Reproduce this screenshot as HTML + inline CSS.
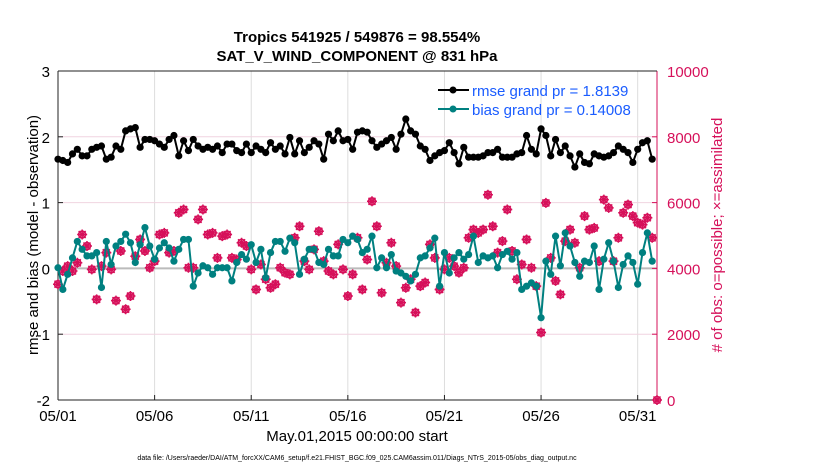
<!DOCTYPE html>
<html><head><meta charset="utf-8"><style>
body{margin:0;background:#fff;width:830px;height:470px;overflow:hidden}
svg{font-family:"Liberation Sans",sans-serif}
</style></head><body>
<svg id="chart" width="830" height="470">
<text x="357" y="42" font-size="15" font-weight="bold" text-anchor="middle">Tropics 541925 / 549876 = 98.554%</text>
<text x="357" y="61" font-size="15" font-weight="bold" text-anchor="middle">SAT_V_WIND_COMPONENT @ 831 hPa</text>
<g id="grid"></g>
<g id="axes"></g>
<g id="marks"></g>
<g>
<line x1="438" y1="90" x2="469" y2="90" stroke="#000" stroke-width="2"/><circle cx="453" cy="90" r="3.5" fill="#000"/>
<text x="472" y="96" font-size="15" fill="#1a5cff">rmse grand pr = 1.8139</text>
<line x1="438" y1="109" x2="469" y2="109" stroke="#008080" stroke-width="2"/><circle cx="453" cy="109" r="3.5" fill="#008080"/>
<text x="472" y="115" font-size="15" fill="#1a5cff">bias grand pr = 0.14008</text>
</g>
<text transform="translate(38,235) rotate(-90)" font-size="15" text-anchor="middle">rmse and bias (model - observation)</text>
<text transform="translate(722,235) rotate(-90)" font-size="15" fill="#d6105a" text-anchor="middle"># of obs: o=possible; ×=assimilated</text>
<text x="357" y="441" font-size="15" text-anchor="middle">May.01,2015 00:00:00 start</text>
<text x="357" y="460" font-size="7" text-anchor="middle">data file: /Users/raeder/DAI/ATM_forcXX/CAM6_setup/f.e21.FHIST_BGC.f09_025.CAM6assim.011/Diags_NTrS_2015-05/obs_diag_output.nc</text>
</svg>
<script>
const xTickLabels=["05/01","05/06","05/11","05/16","05/21","05/26","05/31"];
const xTickDays=[0,5,10,15,20,25,30];
const yLeftTicks=[-2,-1,0,1,2,3];
const yRightTicks=[0,2000,4000,6000,8000,10000];
const rmse=[1.66,1.64,1.61,1.74,1.81,1.71,1.71,1.81,1.84,1.86,1.66,1.69,1.86,1.81,2.09,2.12,2.14,1.84,1.96,1.96,1.94,1.89,1.84,1.96,2.02,1.71,1.94,1.79,1.96,1.86,1.81,1.84,
1.81,1.86,1.76,1.89,1.89,1.79,1.76,1.89,1.76,1.86,1.81,1.76,1.91,1.81,1.86,1.74,1.99,1.74,1.94,1.76,1.84,1.94,1.89,1.66,2.04,1.94,2.09,1.94,1.96,1.81,2.07,
2.09,2.07,1.94,1.84,1.89,1.94,1.99,1.81,2.04,2.27,2.09,2.04,1.86,1.81,1.64,1.71,1.76,1.79,1.91,1.76,1.59,1.84,1.69,1.69,1.69,1.71,1.76,1.76,1.81,1.69,1.69,
1.69,1.74,1.76,2.02,1.81,1.74,2.12,2.02,1.71,1.96,1.76,1.86,1.71,1.54,1.74,1.61,1.59,1.74,1.71,1.69,1.71,1.76,1.86,1.81,1.76,1.61,1.81,1.91,1.94,1.66];
const bias=[0.01,-0.32,-0.09,0.16,0.41,0.29,0.19,0.19,0.24,-0.29,0.41,0.06,0.34,0.41,0.52,0.39,0.09,0.36,0.62,0.34,0.14,0.31,0.39,0.31,0.11,0.29,0.44,0.44,-0.27,-0.07,0.04,0.01,
-0.09,0.01,0.01,0.01,-0.19,0.09,0.21,0.14,0.36,0.09,0.29,-0.14,0.24,0.41,0.41,0.26,0.46,0.39,-0.09,0.14,0.29,0.29,0.09,0.06,0.29,0.19,0.19,0.44,0.39,0.49,0.44,
0.24,0.29,0.49,0.01,0.16,0.01,0.21,-0.04,-0.07,-0.12,-0.19,-0.09,0.16,0.19,0.31,0.46,-0.27,0.24,-0.07,0.16,0.24,0.14,0.21,0.49,0.09,0.19,0.16,0.19,0.01,0.21,0.26,
0.14,0.24,-0.32,-0.27,-0.22,-0.27,-0.75,0.11,-0.09,0.49,0.04,0.54,0.34,0.09,-0.12,0.11,0.09,0.34,-0.32,0.14,0.39,0.11,-0.29,0.06,0.19,0.09,-0.24,0.24,0.54,0.11];
const obsCount=[3520,3920,4070,3920,4170,5030,4680,3970,3060,4070,4480,3970,3020,4530,2760,3160,4370,4880,4530,4020,4220,5030,5080,4480,4530,5690,5790,4020,4020,5490,5790,5030,
5080,4320,4980,5030,4320,4270,4780,4680,3970,3360,4120,3670,3410,3520,4020,3870,3820,4930,5280,4220,3970,4580,5130,4220,3920,3820,4730,3970,3160,3820,4930,
3360,4270,6040,5280,3260,4170,4780,4070,2960,3410,3670,2660,3460,3570,4730,4320,3360,3970,4320,4070,3870,4020,4930,5180,5080,5180,6240,5280,4480,4830,5790,
4530,3670,4120,4880,4020,3460,2050,5990,4320,3620,3210,4830,5180,4780,4020,5590,5180,5230,4220,6090,5840,4220,4930,5690,5940,5590,5390,5330,5540,4930,0];
const X0=58,X1=657,Y0=400,Y1=71,DAYS=31,STEP=0.25;
function xs(d){return X0+(X1-X0)*d/DAYS;}
function yl(v){return Y0-(Y0-Y1)*(v+2)/5;}
function yr(v){return Y0-(Y0-Y1)*v/10000;}
const NS="http://www.w3.org/2000/svg";
function mk(parent,tag,attrs){const e=document.createElementNS(NS,tag);for(const k in attrs)e.setAttribute(k,attrs[k]);parent.appendChild(e);return e;}
const grid=document.getElementById('grid'),axes=document.getElementById('axes'),marks=document.getElementById('marks');
xTickDays.forEach((d,i)=>{
  const g=mk(grid,'line',{x1:xs(d),x2:xs(d),y1:Y1,y2:Y0,stroke:'#ddd','stroke-width':1});
  
  
  mk(axes,'line',{x1:xs(d),x2:xs(d),y1:Y0,y2:Y0-5,stroke:'#222'});
  const t=mk(axes,'text',{x:xs(d),y:Y0+21,'font-size':15,'text-anchor':'middle'});
  t.textContent=xTickLabels[i];
  
  
});
yRightTicks.forEach(v=>{
  if(v>0&&v<10000){const g=mk(grid,'line',{x1:X0,x2:X1,y1:yr(v),y2:yr(v),stroke:'#f0d4e0','stroke-width':1});
  
  }
  mk(axes,'line',{x1:X1,x2:X1-5,y1:yr(v),y2:yr(v),stroke:'#d6105a'});
  const t=mk(axes,'text',{x:X1+10,y:yr(v)+6,'font-size':15,fill:'#d6105a'});
  t.textContent=v;
  
  
});
yLeftTicks.forEach(v=>{
  mk(axes,'line',{x1:X0,x2:X0+5,y1:yl(v),y2:yl(v),stroke:'#222'});
  const t=mk(axes,'text',{x:X0-8,y:yl(v)+6,'font-size':15,'text-anchor':'end'});
  t.textContent=v;
  
  
});
mk(grid,'line',{x1:X0,x2:X1,y1:yl(0),y2:yl(0),stroke:'#bbb','stroke-width':2});
mk(axes,'line',{x1:X0,x2:X0,y1:Y1,y2:Y0,stroke:'#222'});
mk(axes,'line',{x1:X0,x2:X1,y1:Y0,y2:Y0,stroke:'#222'});
mk(axes,'line',{x1:X1,x2:X1,y1:Y1,y2:Y0,stroke:'#d6105a'});
mk(axes,'line',{x1:X0,x2:X1,y1:Y1,y2:Y1,stroke:'#222'});
obsCount.forEach((v,i)=>{
  const cx=xs(i*STEP),cy=yr(v);
  const g=mk(marks,'g',{});
  
  
  mk(g,'circle',{cx:cx,cy:cy,r:3.5,fill:'none',stroke:'#d6105a','stroke-width':1.6});
  mk(g,'path',{d:`M${cx-5} ${cy}H${cx+5}M${cx} ${cy-5}V${cy+5}M${cx-3.5} ${cy-3.5}L${cx+3.5} ${cy+3.5}M${cx-3.5} ${cy+3.5}L${cx+3.5} ${cy-3.5}`,stroke:'#d6105a','stroke-width':1.5});
});
function series(arr,color,name){
  const pts=arr.map((v,i)=>xs(i*STEP)+','+yl(v)).join(' ');
  const pl=mk(marks,'polyline',{points:pts,fill:'none',stroke:color,'stroke-width':2});
  
  
  arr.forEach((v,i)=>{
    const c=mk(marks,'circle',{cx:xs(i*STEP),cy:yl(v),r:3.6,fill:color});
    
    
  });
}
series(bias,'#008080','bias');
series(rmse,'#000000','rmse');
</script>
</body></html>
